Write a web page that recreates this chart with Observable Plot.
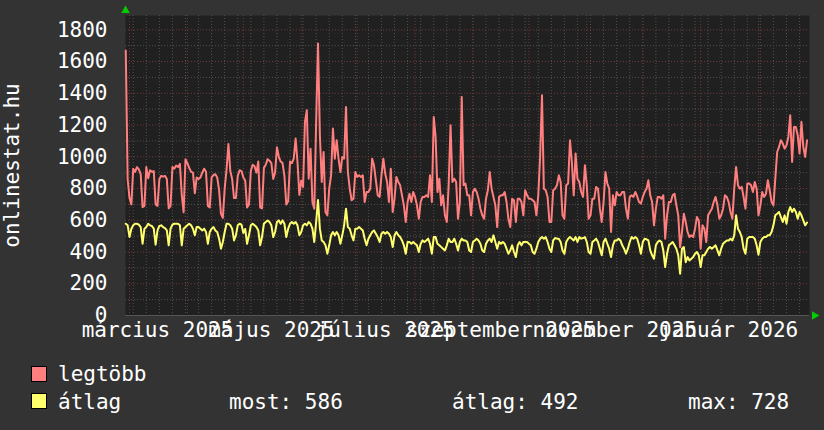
<!DOCTYPE html>
<html><head><meta charset="utf-8">
<script src="https://cdn.jsdelivr.net/npm/d3@7"></script>
<script src="https://cdn.jsdelivr.net/npm/@observablehq/plot@0.6"></script>
<style>
html,body{margin:0;padding:0;background:#333333;}
#wrap{position:relative;width:824px;height:430px;background:#333333;overflow:hidden;font-family:"DejaVu Sans Mono",monospace;color:#ffffff;font-size:21px;}
#chart{position:absolute;left:0;top:0;}
.lg{position:absolute;line-height:21px;white-space:pre;}
.sw{position:absolute;width:14px;height:14px;border:1px solid #000;}
</style></head><body><div id="wrap"><div id="chart"></div><div id="legend"></div></div>
<script>
// daily series, first day 2025-02-27
const startDay = "2025-02-27";
const legtobb = [
1670, 860, 740, 700,
925, 905, 935, 920, 890, 683, 690,
935, 865, 915, 905, 910, 700, 690,
860, 880, 875, 880, 860, 675, 690,
935, 925, 945, 935, 955, 760, 650,
985, 960, 930, 905, 900, 770, 870,
860, 870, 900, 925, 905, 690, 680,
870, 885, 890, 870, 790, 640, 615,
800, 920, 1080, 910, 860, 740, 740,
880, 915, 910, 870, 850, 680, 700,
910, 950, 940, 900, 970, 680, 675,
930, 950, 985, 975, 960, 860, 900,
1060, 1000, 970, 960, 880, 700, 720,
970, 960, 988, 1115, 967, 760, 850,
810, 1220, 1293, 862, 1051, 715, 673,
1220, 1714, 1135, 841, 1030, 652, 631,
799, 883, 1178, 988, 1104, 988, 904,
999, 988, 1314, 904, 799, 726, 736,
904, 873, 883, 873, 883, 715, 778,
778, 799, 988, 946, 852, 757, 747,
883, 988, 894, 841, 715, 925, 652,
736, 873, 841, 820, 757, 694, 589,
715, 767, 715, 778, 747, 694, 610,
715, 747, 747, 757, 747, 883, 715,
1251, 1125, 778, 862, 694, 757, 631,
589, 820, 1199, 841, 862, 841, 610,
715, 1377, 820, 831, 757, 757, 631,
778, 799, 778, 736, 673, 631, 610,
736, 789, 904, 799, 747, 694, 557,
747, 757, 757, 778, 715, 610, 557,
736, 726, 589, 736, 736, 715, 631,
789, 757, 736, 736, 726, 715, 631,
757, 1000, 1388, 799, 789, 747, 589,
589, 789, 799, 820, 883, 841, 631,
610, 820, 831, 1104, 967, 757, 1020,
862, 841, 778, 747, 946, 820, 610,
631, 736, 736, 810, 799, 673, 589,
715, 904, 831, 799, 526, 757, 694,
778, 757, 757, 778, 778, 673, 610,
747, 757, 747, 778, 750, 715, 705,
747, 778, 799, 852, 757, 715, 568,
673, 747, 747, 736, 757, 484, 631,
715, 715, 757, 767, 694, 631, 430,
526, 641, 589, 526, 494, 505, 494,
547, 620, 599, 421, 568, 547, 463,
631, 652, 673, 715, 747, 694, 610,
631, 673, 757, 747, 715, 652, 610,
799, 936, 820, 799, 810, 747, 673,
831, 831, 820, 778, 841, 799, 631,
694, 778, 747, 767, 852, 789, 715,
694, 862, 1030, 1062, 1104, 1083, 1051,
1072, 1125, 1262, 967, 1188, 1188, 1135,
1020, 1220, 1062, 999, 1104
];
const atlag = [
578, 568, 495, 547,
568, 578, 578, 572, 557, 452, 547,
557, 578, 568, 564, 547, 446, 536,
564, 568, 557, 551, 536, 442, 547,
572, 578, 578, 578, 568, 442, 547,
557, 568, 578, 568, 547, 505, 557,
557, 547, 536, 547, 526, 452, 526,
547, 557, 536, 526, 484, 421, 463,
526, 578, 578, 568, 547, 473, 505,
568, 578, 572, 520, 545, 452, 505,
568, 578, 568, 557, 536, 442, 494,
578, 589, 599, 589, 568, 494, 526,
589, 599, 578, 599, 578, 494, 547,
578, 589, 578, 589, 568, 505, 526,
568, 578, 568, 589, 578, 547, 463,
589, 728, 547, 473, 463, 442, 389,
442, 505, 526, 505, 526, 505, 452,
505, 568, 673, 557, 547, 505, 473,
547, 547, 557, 547, 536, 484, 442,
484, 505, 526, 536, 515, 494, 463,
515, 526, 515, 526, 515, 494, 431,
505, 526, 505, 494, 473, 442, 389,
463, 463, 452, 463, 452, 442, 400,
452, 473, 463, 473, 484, 452, 389,
494, 494, 452, 442, 431, 421, 410,
442, 484, 463, 463, 484, 452, 410,
463, 484, 473, 473, 463, 410, 400,
463, 473, 484, 473, 452, 410, 400,
452, 473, 484, 463, 505, 463, 421,
463, 452, 463, 452, 421, 389, 410,
442, 400, 368, 442, 463, 442, 463,
463, 463, 452, 442, 400, 389, 421,
463, 484, 494, 484, 494, 463, 421,
400, 473, 488, 484, 484, 463, 410,
389, 463, 484, 494, 484, 473, 494,
463, 494, 484, 488, 494, 463, 400,
389, 463, 473, 484, 463, 421, 379,
463, 484, 452, 421, 368, 442, 473,
473, 484, 473, 442, 421, 389, 421,
463, 494, 484, 494, 484, 442, 389,
463, 484, 480, 473, 410, 379, 358,
442, 463, 473, 463, 410, 305, 389,
442, 452, 463, 442, 421, 379, 263,
421, 431, 336, 368, 347, 358, 368,
389, 400, 379, 305, 379, 379, 400,
421, 431, 421, 431, 442, 410, 379,
421, 452, 463, 473, 473, 484, 473,
505, 631, 547, 526, 494, 421, 389,
484, 494, 494, 494, 484, 442, 383,
463, 484, 494, 494, 505, 505, 526,
568, 631, 641, 652, 620, 589, 631,
578, 652, 683, 652, 673, 652, 610,
652, 631, 599, 568, 586
];
const yTicks = [0, 200, 400, 600, 800, 1000, 1200, 1400, 1600, 1800];
const yMinorTicks = [100, 300, 500, 700, 900, 1100, 1300, 1500, 1700];
const monthLabels = ["március 2025", "május 2025", "július 2025", "szeptember 2025", "november 2025", "január 2026"];
const labelMonths = ["2025-03-01", "2025-05-01", "2025-07-01", "2025-09-01", "2025-11-01", "2026-01-01"];
const seriesNames = ["legtöbb", "átlag"];
const seriesColors = ["#ff7f7f", "#ffff6e"];
const statNames = ["most", "átlag", "max"];
const statValues = [586, 492, 728];
const yTitle = "onlinestat.hu";

const DAY = 864e5;
const t0 = Date.parse(startDay);
const rows = legtobb.map((v, i) => ({date: new Date(t0 + i * DAY), legtobb: v, atlag: atlag[i]}));
const mar1 = Date.parse("2025-03-01");
const xDomain = [new Date(mar1 - 2.143 * DAY), new Date(mar1 + 364.32 * DAY)];
const months = d3.utcMonth.range(xDomain[0], xDomain[1]);
const mondays = d3.utcMonday.range(xDomain[0], xDomain[1]);
const labels = labelMonths.map((m, i) => ({x: new Date(Date.parse(m) + 15 * DAY), text: monthLabels[i]}));
const font = "DejaVu Sans Mono";

const chart = Plot.plot({
  width: 824, height: 340,
  marginLeft: 125, marginRight: 15, marginTop: 15, marginBottom: 25,
  style: {background: "transparent", color: "#ffffff", fontFamily: font, fontSize: "21px", overflow: "visible"},
  x: {type: "utc", domain: xDomain, axis: null},
  y: {domain: [0, 1890], axis: null},
  marks: [
    Plot.frame({fill: "#202020", stroke: null}),
    Plot.gridY(yMinorTicks, {stroke: "#505050", strokeOpacity: 1, strokeDasharray: "1,2"}),
    Plot.gridX(mondays, {stroke: "#505050", strokeOpacity: 1, strokeDasharray: "1,2"}),
    Plot.gridY(yTicks, {stroke: "#703a3a", strokeOpacity: 1, strokeDasharray: "1,2"}),
    Plot.gridX(months, {stroke: "#703a3a", strokeOpacity: 1, strokeDasharray: "1,2"}),
    Plot.lineY(rows, {x: "date", y: "legtobb", stroke: seriesColors[0], strokeWidth: 2}),
    Plot.lineY(rows, {x: "date", y: "atlag", stroke: seriesColors[1], strokeWidth: 2}),
    Plot.ruleY([0], {stroke: "#555555"}),
    Plot.axisY(yTicks, {tickSize: 0, tickPadding: 18, tickFormat: d3.format("d"), fontSize: 21, fill: "#ffffff", label: null}),
    Plot.text(labels, {x: "x", text: "text", frameAnchor: "bottom", lineAnchor: "top", dy: 7, fontSize: 21, fill: "#ffffff"}),
    Plot.text([yTitle], {frameAnchor: "left", rotate: -90, dx: -107, lineAnchor: "bottom", textAnchor: "middle", fontSize: 21, fill: "#ffffff"}),
    Plot.dot([0], {frameAnchor: "top-left", symbol: "triangle", r: 3.2, fill: "#00cc00", stroke: null, dy: -5}),
    Plot.dot([0], {frameAnchor: "bottom-right", symbol: "triangle", rotate: 90, r: 3.2, fill: "#00cc00", stroke: null, dx: 5})
  ]
});
document.getElementById("chart").appendChild(chart);

const lg = document.getElementById("legend");
const rowsY = [364, 392];
const swatchY = [366, 393];
seriesNames.forEach((name, i) => {
  const sw = document.createElement("div");
  sw.className = "sw";
  sw.style.left = "31px"; sw.style.top = swatchY[i] + "px";
  sw.style.background = seriesColors[i];
  lg.appendChild(sw);
  const t = document.createElement("div");
  t.className = "lg"; t.style.left = "58px"; t.style.top = rowsY[i] + "px";
  t.textContent = name;
  lg.appendChild(t);
});
const statX = [229, 452, 688];
statNames.forEach((n, i) => {
  const t = document.createElement("div");
  t.className = "lg"; t.style.left = statX[i] + "px"; t.style.top = rowsY[1] + "px";
  t.textContent = n + ": " + statValues[i];
  lg.appendChild(t);
});
</script></body></html>
